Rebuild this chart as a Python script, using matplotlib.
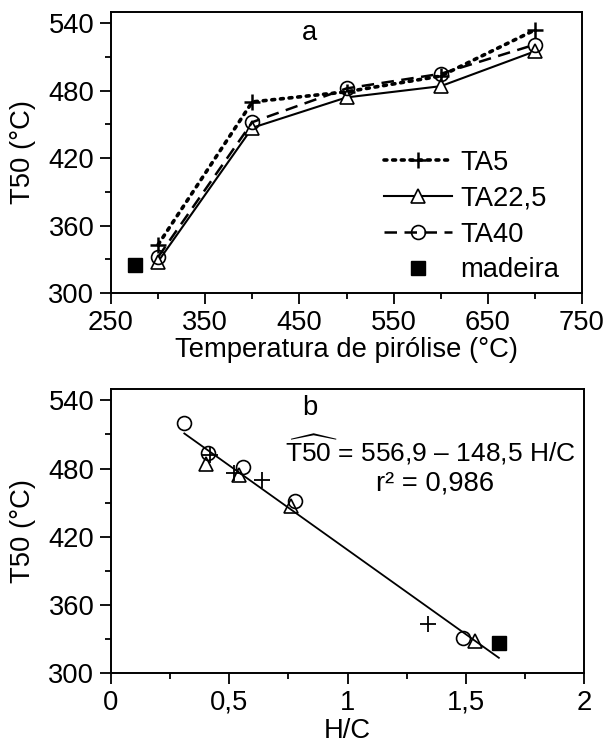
import matplotlib
matplotlib.use("Agg")
import matplotlib.pyplot as plt
from matplotlib.ticker import FixedLocator, FuncFormatter
import numpy as np

plt.rcParams['font.family'] = ['Liberation Sans', 'DejaVu Sans']
plt.rcParams['mathtext.fontset'] = 'custom'
plt.rcParams['mathtext.rm'] = 'Liberation Sans'
plt.rcParams['mathtext.it'] = 'Liberation Sans'

FS = 19.7

# ---- data panel a ----
temps = [300, 400, 500, 600, 700]
ta5 = [343, 470, 479, 493, 534]
ta225 = [328, 447, 474, 484, 515]
ta40 = [332, 452, 482, 495, 521]
madeira_temp = [275]
madeira_t50 = [325]

# ---- data panel b (H/C) ----
hc_ta5 = [1.34, 0.64, 0.52, 0.42]
t50_ta5 = [343, 470, 476, 492]
hc_ta225 = [1.54, 0.76, 0.54, 0.40]
t50_ta225 = [328, 447, 474, 484]
hc_ta40 = [1.49, 0.78, 0.56, 0.41, 0.31]
t50_ta40 = [331, 451, 481, 494, 520]
hc_madeira = [1.64]
t50_madeira = [326]
fit_a, fit_b = 556.9, -148.5
fit_range = [0.31, 1.64]

fig = plt.figure(figsize=(6.08, 7.44), dpi=100)
ax1 = fig.add_axes([111/608, 1-293/744, (582-111)/608, (293-12)/744])
ax2 = fig.add_axes([111/608, 1-673/744, (584-111)/608, (673-389)/744])

ms = 10
ax1.plot(temps, ta5, linestyle=(0, (0.8, 1.6)), dash_capstyle='round', color='black', lw=2.6,
         marker='+', ms=11, mew=1.8, label='TA5')
ax1.plot(temps, ta225, linestyle='-', color='black', lw=1.5,
         marker='^', ms=ms, mfc='white', mec='black', mew=1.2, label='TA22,5')
ax1.plot(temps, ta40, linestyle=(0, (5, 3)), color='black', lw=1.8,
         marker='o', ms=ms, mfc='none', mec='black', mew=1.2, label='TA40')
ax1.plot(madeira_temp, madeira_t50, linestyle='none', marker='s', ms=10, color='black', label='madeira')
ax1.set_xlim(250, 750)
ax1.set_ylim(300, 550)
ax1.xaxis.set_major_locator(FixedLocator([250, 350, 450, 550, 650, 750]))
ax1.xaxis.set_minor_locator(FixedLocator([300, 400, 500, 600, 700]))
ax1.set_xlabel('Temperatura de pirólise (°C)', fontsize=FS, labelpad=1)
ax1.text(461, 531, 'a', fontsize=FS, ha='center', va='center')
leg = ax1.legend(loc='lower right', frameon=False, fontsize=FS, handlelength=2.5,
                 handletextpad=0.3, labelspacing=0.36, borderaxespad=0.0,
                 bbox_to_anchor=(0.975, -0.005))

# panel b
ax2.plot(hc_ta5, t50_ta5, linestyle='none', marker='+', ms=11, mew=1.3, color='black')
ax2.plot(hc_ta225, t50_ta225, linestyle='none', marker='^', ms=ms, mfc='none', mec='black', mew=1.2)
ax2.plot(hc_ta40, t50_ta40, linestyle='none', marker='o', ms=ms, mfc='none', mec='black', mew=1.2)
ax2.plot(hc_madeira, t50_madeira, linestyle='none', marker='s', ms=10, color='black')
xf = np.array(fit_range)
ax2.plot(xf, fit_a + fit_b * xf, color='black', lw=1.3)
ax2.set_xlim(0, 2)
ax2.set_ylim(300, 550)
ax2.xaxis.set_major_locator(FixedLocator([0, 0.5, 1, 1.5, 2]))
ax2.xaxis.set_minor_locator(FixedLocator([0.25, 0.75, 1.25, 1.75]))
ax2.xaxis.set_major_formatter(FuncFormatter(lambda v, p: ('%g' % v).replace('.', ',')))
ax2.set_xlabel('H/C', fontsize=FS, labelpad=2)
ax2.text(0.84, 533, 'b', fontsize=FS, ha='center', va='center')
ax2.text(1.35, 497, r'$\widehat{\mathrm{T50}}$' + ' = 556,9 – 148,5 H/C', fontsize=19,
         ha='center', va='center')
ax2.text(1.37, 467, 'r² = 0,986', fontsize=FS, ha='center', va='center')

for ax in (ax1, ax2):
    ax.yaxis.set_major_locator(FixedLocator([300, 360, 420, 480, 540]))
    ax.yaxis.set_minor_locator(FixedLocator([330, 390, 450, 510]))
    ax.set_ylabel('T50 (°C)', fontsize=FS, labelpad=9)
    ax.tick_params(which='major', direction='out', length=8, width=1.3, labelsize=FS,
                   top=False, right=False, pad=4)
    ax.tick_params(which='minor', direction='out', length=4.5, width=1.3,
                   top=False, right=False)
    for s in ax.spines.values():
        s.set_linewidth(1.4)

fig.savefig('out.png', dpi=100)
